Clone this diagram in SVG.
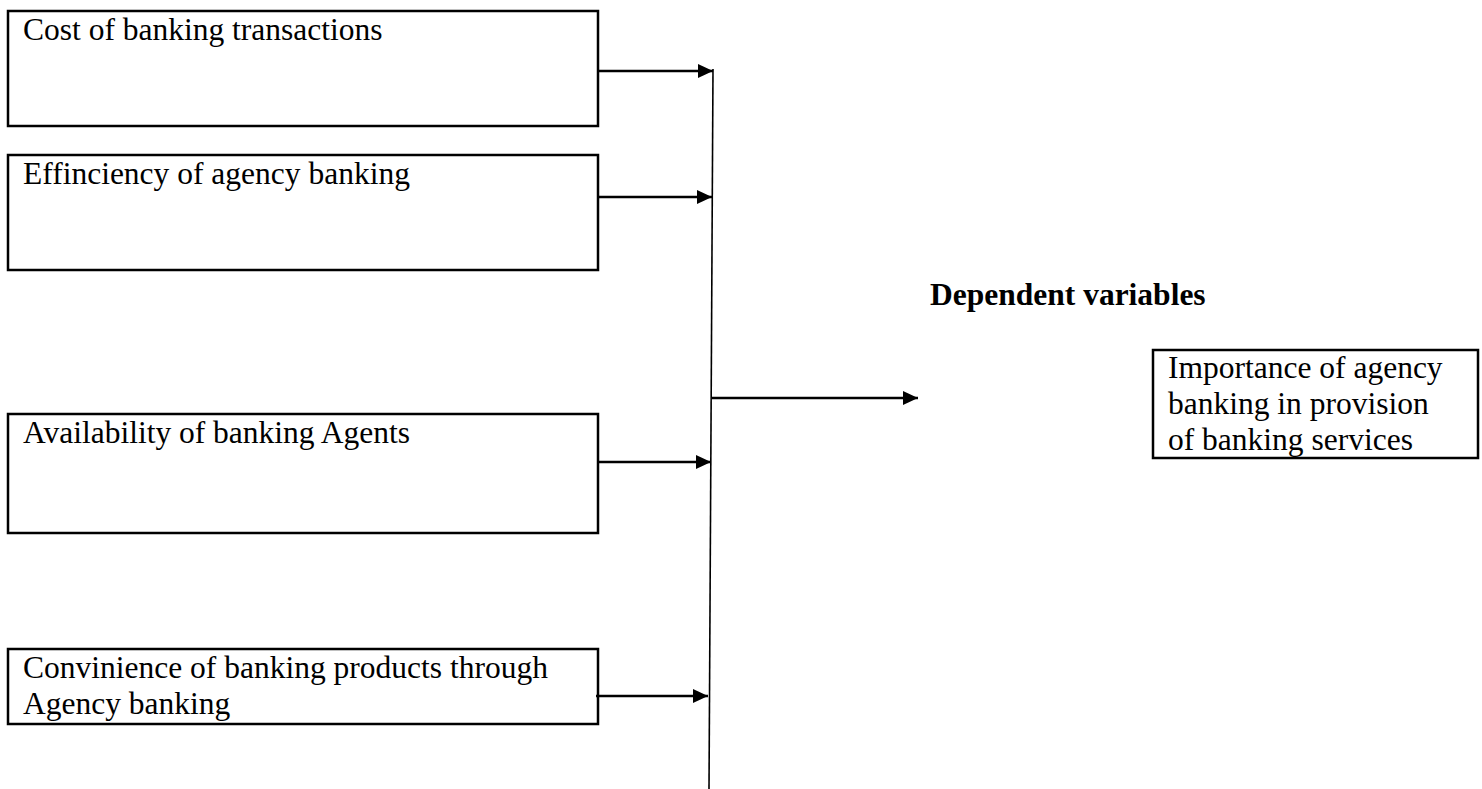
<svg xmlns="http://www.w3.org/2000/svg" width="1482" height="789" viewBox="0 0 1482 789">
<defs>
<style>
.box{fill:#fff;stroke:#000;stroke-width:2.5}
.t{font-family:"Liberation Serif","Times New Roman",serif;font-size:31.5px;fill:#000}
.b{font-weight:bold}
.c{stroke:#000;stroke-width:2.5;fill:none}
.v{stroke:#000;stroke-width:1.6;fill:none}
</style>
<marker id="ah" markerUnits="userSpaceOnUse" markerWidth="16" markerHeight="14" refX="15" refY="7" orient="auto">
<path d="M0,0 L15,7 L0,14 Z" fill="#000"/>
</marker>
</defs>
<rect width="1482" height="789" fill="#fff"/>
<g id="n1"><rect class="box" x="8" y="11" width="590" height="115"/><text class="t" x="23" y="40">Cost of banking transactions</text></g>
<g id="n2"><rect class="box" x="8" y="155" width="590" height="115"/><text class="t" x="23" y="184">Effinciency of agency banking</text></g>
<g id="n3"><rect class="box" x="8" y="414" width="590" height="119"/><text class="t" x="23" y="443">Availability of banking Agents</text></g>
<g id="n4"><rect class="box" x="8" y="649" width="590" height="75"/><text class="t" x="23" y="678">Convinience of banking products through</text><text class="t" x="23" y="714">Agency banking</text></g>
<g id="label"><text class="t b" x="930" y="305">Dependent variables</text></g>
<g id="n5"><rect class="box" x="1153" y="350" width="325" height="108"/><text class="t" x="1168" y="378">Importance of agency</text><text class="t" x="1168" y="414">banking in provision</text><text class="t" x="1168" y="450">of banking services</text></g>
<g id="connectors">
<line class="v" x1="713" y1="69" x2="709" y2="789"/>
<line class="c" x1="598" y1="71" x2="713" y2="71" marker-end="url(#ah)"/>
<line class="c" x1="598" y1="197" x2="712" y2="197" marker-end="url(#ah)"/>
<line class="c" x1="598" y1="462" x2="711" y2="462" marker-end="url(#ah)"/>
<line class="c" x1="596" y1="696" x2="708" y2="696" marker-end="url(#ah)"/>
<line class="c" x1="712" y1="398" x2="918" y2="398" marker-end="url(#ah)"/>
</g>
</svg>
